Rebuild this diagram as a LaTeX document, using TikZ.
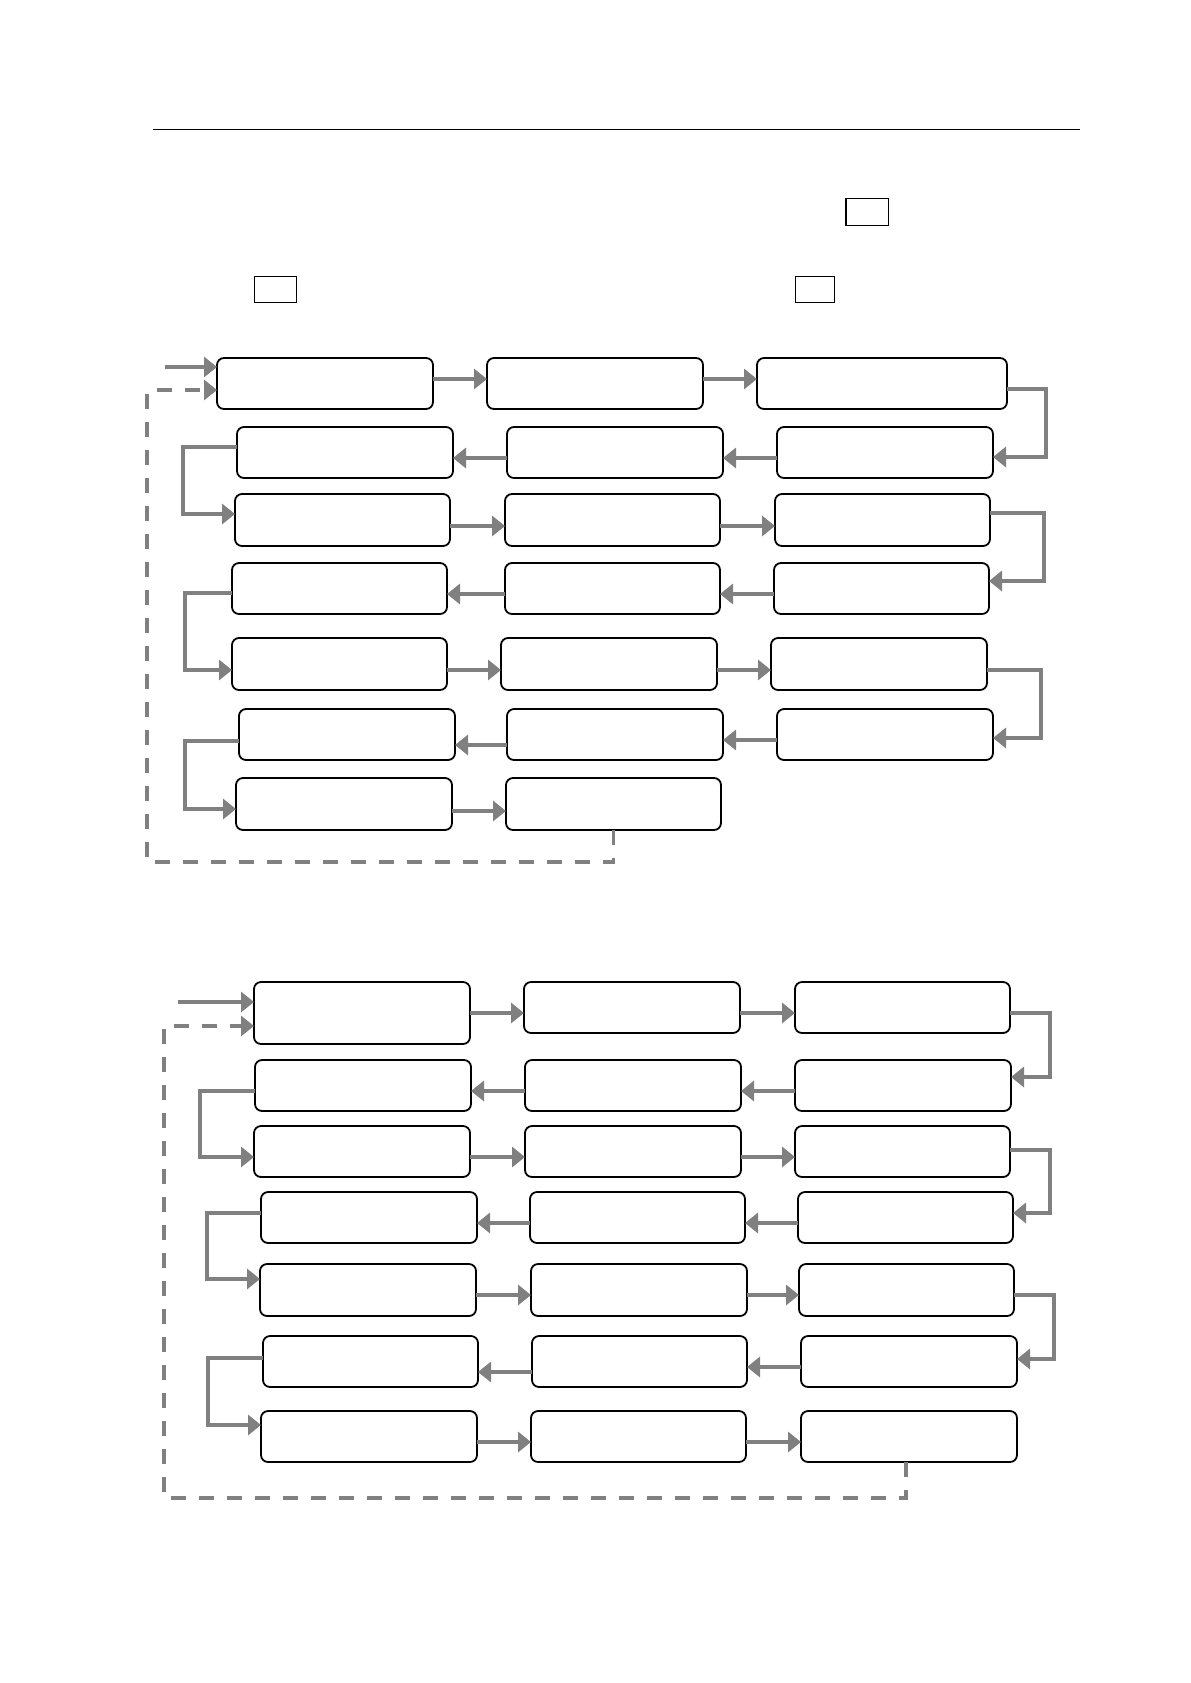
\documentclass[tikz,border=0pt]{standalone}
\usetikzlibrary{arrows.meta,fit}
\definecolor{conngray}{RGB}{128,128,128}
\tikzset{
  bx/.style={draw=black, line width=0.9pt, rounded corners=3.5pt, inner sep=0pt, outer sep=0pt, fill=white},
  hbx/.style={draw=black, line width=0.9pt, inner sep=0pt, outer sep=0pt},
  conn/.style={draw=conngray, line width=1.9pt, -{Triangle[length=6.5pt,width=10pt]}},
  back/.style={draw=conngray, line width=1.9pt, dash pattern=on 7.5pt off 6.5pt, -{Triangle[length=6.5pt,width=10pt]}}
}
\begin{document}
\begin{tikzpicture}[x=0.5pt,y=-0.5pt]
\useasboundingbox (0,0) rectangle (1190,1683);
% header
\coordinate (hl) at (153,129.5);
\coordinate (hr) at (1080,129.5);
\draw[line width=0.8pt] (hl) -- (hr);
\node[hbx, fit={(846,198.5) (888.5,225.5)}] (h1) {};
\node[hbx, fit={(254.5,276.5) (296.5,302.5)}] (h2) {};
\node[hbx, fit={(795.5,276.5) (834.5,302.5)}] (h3) {};
% diagram 1
\node[bx, fit={(217,358) (433,409)}] (a11) {};
\node[bx, fit={(487,358) (703,409)}] (a12) {};
\node[bx, fit={(757,358) (1007,409)}] (a13) {};
\node[bx, fit={(237,427) (453,478)}] (a21) {};
\node[bx, fit={(507,427) (723,478)}] (a22) {};
\node[bx, fit={(777,427) (993,478)}] (a23) {};
\node[bx, fit={(235,494) (450,546)}] (a31) {};
\node[bx, fit={(505,494) (720,546)}] (a32) {};
\node[bx, fit={(775,494) (990,546)}] (a33) {};
\node[bx, fit={(232,563) (447,614)}] (a41) {};
\node[bx, fit={(505,563) (720,614)}] (a42) {};
\node[bx, fit={(774,563) (989,614)}] (a43) {};
\node[bx, fit={(232,638) (447,690)}] (a51) {};
\node[bx, fit={(501,638) (717,690)}] (a52) {};
\node[bx, fit={(771,638) (987,690)}] (a53) {};
\node[bx, fit={(239,709) (455,760)}] (a61) {};
\node[bx, fit={(507,709) (723,760)}] (a62) {};
\node[bx, fit={(777,709) (993,760)}] (a63) {};
\node[bx, fit={(236,778) (452,830)}] (a71) {};
\node[bx, fit={(506,778) (721,830)}] (a72) {};
\coordinate (ain) at (165,367);
\draw[conn] (ain) -- (a11.west |- 0,367);
\draw[back] (a72.south) |- (147,862) |- (a11.west |- 0,390);
\draw[conn] (a11.east |- 0,379) -- (a12.west |- 0,379);
\draw[conn] (a12.east |- 0,379) -- (a13.west |- 0,379);
\draw[conn] (a13.east |- 0,389) -| (1046,457) -- (a23.east |- 0,457);
\draw[conn] (a23.west |- 0,458) -- (a22.east |- 0,458);
\draw[conn] (a22.west |- 0,458) -- (a21.east |- 0,458);
\draw[conn] (a21.west |- 0,447) -| (183,514) -- (a31.west |- 0,514);
\draw[conn] (a31.east |- 0,526) -- (a32.west |- 0,526);
\draw[conn] (a32.east |- 0,526) -- (a33.west |- 0,526);
\draw[conn] (a33.east |- 0,513) -| (1044,581) -- (a43.east |- 0,581);
\draw[conn] (a43.west |- 0,594) -- (a42.east |- 0,594);
\draw[conn] (a42.west |- 0,594) -- (a41.east |- 0,594);
\draw[conn] (a41.west |- 0,593) -| (185,670) -- (a51.west |- 0,670);
\draw[conn] (a51.east |- 0,670) -- (a52.west |- 0,670);
\draw[conn] (a52.east |- 0,670) -- (a53.west |- 0,670);
\draw[conn] (a53.east |- 0,670) -| (1041,738) -- (a63.east |- 0,738);
\draw[conn] (a63.west |- 0,740) -- (a62.east |- 0,740);
\draw[conn] (a62.west |- 0,745) -- (a61.east |- 0,745);
\draw[conn] (a61.west |- 0,741) -| (185,809) -- (a71.west |- 0,809);
\draw[conn] (a71.east |- 0,811) -- (a72.west |- 0,811);
% diagram 2
\node[bx, fit={(254,982) (470,1044)}] (b11) {};
\node[bx, fit={(524,982) (740,1033)}] (b12) {};
\node[bx, fit={(795,982) (1010,1033)}] (b13) {};
\node[bx, fit={(255,1060) (471,1111)}] (b21) {};
\node[bx, fit={(525,1060) (741,1111)}] (b22) {};
\node[bx, fit={(795,1060) (1011,1111)}] (b23) {};
\node[bx, fit={(254,1126) (470,1177)}] (b31) {};
\node[bx, fit={(525,1126) (741,1177)}] (b32) {};
\node[bx, fit={(795,1126) (1010,1177)}] (b33) {};
\node[bx, fit={(261,1192) (477,1243)}] (b41) {};
\node[bx, fit={(530,1192) (745,1243)}] (b42) {};
\node[bx, fit={(798,1192) (1013,1243)}] (b43) {};
\node[bx, fit={(260,1264) (476,1316)}] (b51) {};
\node[bx, fit={(531,1264) (747,1316)}] (b52) {};
\node[bx, fit={(799,1264) (1014,1316)}] (b53) {};
\node[bx, fit={(263,1336) (478,1387)}] (b61) {};
\node[bx, fit={(532,1336) (747,1387)}] (b62) {};
\node[bx, fit={(801,1336) (1017,1387)}] (b63) {};
\node[bx, fit={(261,1411) (477,1462)}] (b71) {};
\node[bx, fit={(531,1411) (746,1462)}] (b72) {};
\node[bx, fit={(801,1411) (1017,1462)}] (b73) {};
\coordinate (bin) at (178,1002);
\draw[conn] (bin) -- (b11.west |- 0,1002);
\draw[back] (b73.south -| 906,0) |- (164,1498) |- (b11.west |- 0,1026);
\draw[conn] (b11.east |- 0,1013) -- (b12.west |- 0,1013);
\draw[conn] (b12.east |- 0,1013) -- (b13.west |- 0,1013);
\draw[conn] (b13.east |- 0,1013) -| (1050,1077) -- (b23.east |- 0,1077);
\draw[conn] (b23.west |- 0,1091) -- (b22.east |- 0,1091);
\draw[conn] (b22.west |- 0,1091) -- (b21.east |- 0,1091);
\draw[conn] (b21.west |- 0,1091) -| (200,1157) -- (b31.west |- 0,1157);
\draw[conn] (b31.east |- 0,1157) -- (b32.west |- 0,1157);
\draw[conn] (b32.east |- 0,1157) -- (b33.west |- 0,1157);
\draw[conn] (b33.east |- 0,1150) -| (1050,1213) -- (b43.east |- 0,1213);
\draw[conn] (b43.west |- 0,1223) -- (b42.east |- 0,1223);
\draw[conn] (b42.west |- 0,1223) -- (b41.east |- 0,1223);
\draw[conn] (b41.west |- 0,1213) -| (207,1279) -- (b51.west |- 0,1279);
\draw[conn] (b51.east |- 0,1295) -- (b52.west |- 0,1295);
\draw[conn] (b52.east |- 0,1295) -- (b53.west |- 0,1295);
\draw[conn] (b53.east |- 0,1295) -| (1054,1359) -- (b63.east |- 0,1359);
\draw[conn] (b63.west |- 0,1367) -- (b62.east |- 0,1367);
\draw[conn] (b62.west |- 0,1372) -- (b61.east |- 0,1372);
\draw[conn] (b61.west |- 0,1358) -| (208,1425) -- (b71.west |- 0,1425);
\draw[conn] (b71.east |- 0,1442) -- (b72.west |- 0,1442);
\draw[conn] (b72.east |- 0,1442) -- (b73.west |- 0,1442);
\end{tikzpicture}
\end{document}
